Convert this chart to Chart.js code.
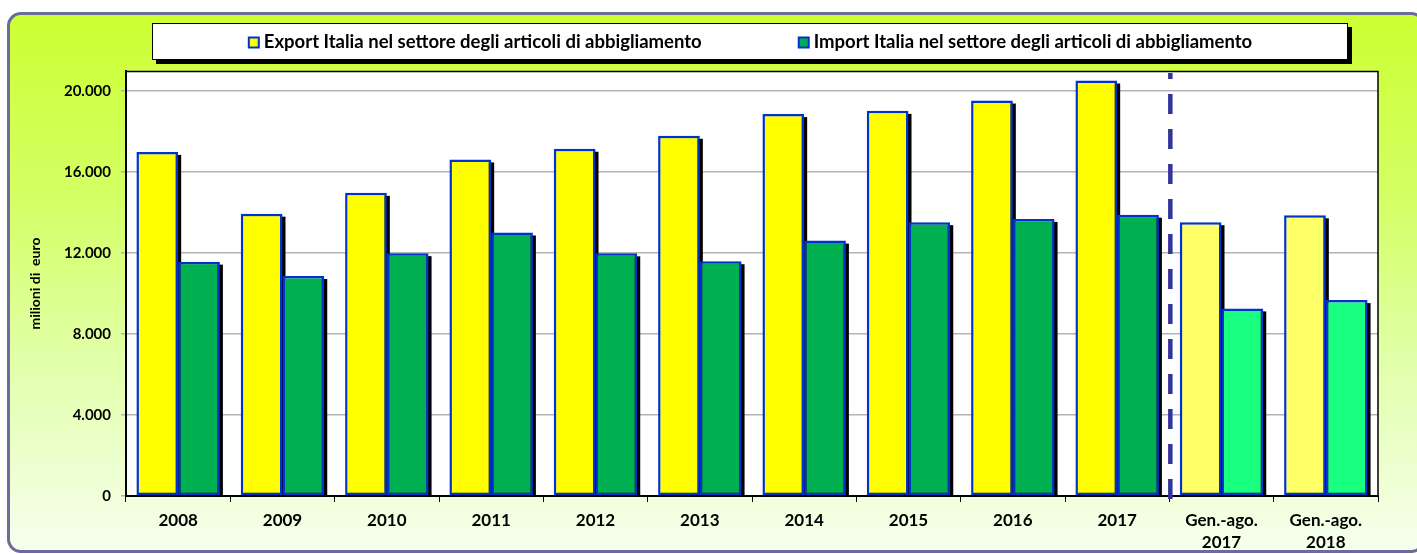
<!DOCTYPE html>
<html>
<head>
<meta charset="utf-8">
<script src="https://cdn.jsdelivr.net/npm/chart.js@4/dist/chart.umd.min.js"></script>
<style>
  html, body { margin: 0; padding: 0; background: #fff; width: 1417px; height: 554px; overflow: hidden; }
  #panel {
    position: absolute; left: 7px; top: 12px; width: 1412px; height: 535px;
    border: 3px solid #6b6b9c; border-radius: 14px;
    background: linear-gradient(to bottom, #ccff33 0%, #d4ff66 35%, #e2ffaa 65%, #f6ffee 100%);
  }
  #chart { position: absolute; left: 0; top: 0; }
</style>
</head>
<body>
<div id="panel"></div>
<canvas id="chart" width="1417" height="554"></canvas>
<script>
// dati
const categories = ['2008', '2009', '2010', '2011', '2012', '2013', '2014', '2015', '2016', '2017',
  ['Gen.-ago.', '2017'], ['Gen.-ago.', '2018']];
const exportValues = [17000, 13950, 14980, 16630, 17160, 17800, 18870, 19030, 19540, 20530, 13530, 13870];
const importValues = [11580, 10870, 12000, 13020, 11990, 11600, 12620, 13530, 13690, 13900, 9270, 9680];
const yTicks = [0, 4000, 8000, 12000, 16000, 20000];
const exportLabel = 'Export Italia nel settore degli articoli di abbigliamento';
const importLabel = 'Import Italia nel settore degli articoli di abbigliamento';

const FONT = 'Lato, "Open Sans", sans-serif';
const exportColors = exportValues.map((v, i) => i < 10 ? '#ffff00' : '#ffff66');
const importColors = importValues.map((v, i) => i < 10 ? '#00b050' : '#19ff80');

function fmt(v) {
    return String(v).replace(/\B(?=(\d{3})+(?!\d))/g, '.');
}

// sfondo bianco area grafico
const plotBg = {
    id: 'plotBg',
    beforeDraw(chart) {
        const a = chart.chartArea;
        chart.ctx.save();
        chart.ctx.fillStyle = '#fff';
        chart.ctx.fillRect(a.left, a.top, a.right - a.left, a.bottom - a.top);
        chart.ctx.restore();
    }
};

// ombra nera dietro le barre
const barShadow = {
    id: 'barShadow',
    beforeDatasetsDraw(chart) {
        const ctx = chart.ctx;
        const a = chart.chartArea;
        ctx.save();
        ctx.beginPath();
        ctx.rect(a.left, a.top, a.right - a.left, a.bottom - a.top);
        ctx.clip();
        ctx.fillStyle = '#000';
        chart.data.datasets.forEach((ds, i) => {
            chart.getDatasetMeta(i).data.forEach(bar => {
                const p = bar.getProps(['x', 'y', 'base', 'width'], true);
                ctx.fillRect(p.x - p.width / 2 + 3, p.y + 3, p.width, p.base - p.y);
            });
        });
        ctx.restore();
    }
};

// bordo area grafico + linea tratteggiata
const frame = {
    id: 'frame',
    afterDatasetsDraw(chart) {
        const ctx = chart.ctx;
        const a = chart.chartArea;
        const x = chart.scales.x;
        ctx.save();
        ctx.strokeStyle = '#000';
        ctx.lineWidth = 1.5;
        ctx.beginPath();
        ctx.moveTo(a.left, a.top + 0.5);
        ctx.lineTo(a.right, a.top + 0.5);
        ctx.lineTo(a.right, a.bottom);
        ctx.stroke();
        const sx = (x.getPixelForValue(9) + x.getPixelForValue(10)) / 2 + 1;
        ctx.strokeStyle = '#333399';
        ctx.lineWidth = 4.5;
        ctx.setLineDash([20, 15]);
        ctx.beginPath();
        ctx.moveTo(sx, a.bottom + 3);
        ctx.lineTo(sx, a.top + 2);
        ctx.stroke();
        ctx.restore();
    }
};

// legenda in riquadro con ombra
const boxLegend = {
    id: 'boxLegend',
    afterDraw(chart) {
        const ctx = chart.ctx;
        const bx = 152, by = 23, bw = 1196, bh = 37;
        ctx.save();
        ctx.fillStyle = '#000';
        ctx.fillRect(bx + 4, by + 4, bw, bh);
        ctx.fillStyle = '#fff';
        ctx.fillRect(bx, by, bw, bh);
        ctx.strokeStyle = '#000';
        ctx.lineWidth = 1;
        ctx.strokeRect(bx + 0.5, by + 0.5, bw - 1, bh - 1);
        ctx.font = 'bold 18.5px ' + FONT;
        ctx.textBaseline = 'middle';
        const items = chart.data.datasets.map(ds => ({ label: ds.label, color: ds.legendColor }));
        const gap = 96;
        const widths = items.map(it => 16 + ctx.measureText(it.label).width);
        const total = widths.reduce((s, w) => s + w, 0) + gap * (items.length - 1);
        let cx = bx + bw / 2 - total / 2;
        const cy = by + bh / 2 + 1;
        items.forEach((it, i) => {
            ctx.fillStyle = '#0033cc';
            ctx.fillRect(cx, cy - 6, 12, 12);
            ctx.fillStyle = it.color;
            ctx.fillRect(cx + 2, cy - 4, 8, 8);
            ctx.fillStyle = '#000';
            ctx.fillText(it.label, cx + 16, cy);
            cx += widths[i] + gap;
        });
        ctx.restore();
    }
};

new Chart(document.getElementById('chart'), {
    type: 'bar',
    data: {
        labels: categories,
        datasets: [{
            label: exportLabel,
            data: exportValues,
            backgroundColor: exportColors,
            legendColor: '#ffff00',
            borderColor: '#0033cc',
            borderWidth: 2.5,
            borderSkipped: false
        }, {
            label: importLabel,
            data: importValues,
            backgroundColor: importColors,
            legendColor: '#00b050',
            borderColor: '#0033cc',
            borderWidth: 2.5,
            borderSkipped: false
        }]
    },
    options: {
        responsive: false,
        animation: false,
        layout: { padding: { left: 27, top: 71, right: 39, bottom: 6 } },
        categoryPercentage: 0.8,
        barPercentage: 1.0,
        plugins: {
            legend: { display: false },
            tooltip: { enabled: false }
        },
        scales: {
            x: {
                grid: { display: true, drawOnChartArea: false, offset: true, tickLength: 6, color: '#000', lineWidth: 1 },
                border: { color: '#000', width: 2 },
                ticks: { color: '#000', font: { family: FONT, weight: 'bold', size: 17, lineHeight: 1.3 }, maxRotation: 0, padding: 7 },
                afterFit(scale) { scale.height = 52; }
            },
            y: {
                min: 0,
                max: 21000,
                afterBuildTicks(scale) { scale.ticks = yTicks.map(v => ({ value: v })); },
                grid: { color: '#b4b4b4', lineWidth: 1.5, tickLength: 5 },
                border: { color: '#000', width: 2 },
                ticks: {
                    color: '#000',
                    font: { family: FONT, weight: 'bold', size: 15 },
                    padding: 10,
                    callback: v => fmt(v)
                },
                title: {
                    display: true,
                    text: 'milioni di  euro',
                    color: '#000',
                    font: { family: FONT, weight: 'bold', size: 14 },
                    padding: { top: 0, bottom: 0 }
                },
                afterFit(scale) { scale.width = 99; }
            }
        }
    },
    plugins: [plotBg, barShadow, frame, boxLegend]
});
</script>
</body>
</html>
